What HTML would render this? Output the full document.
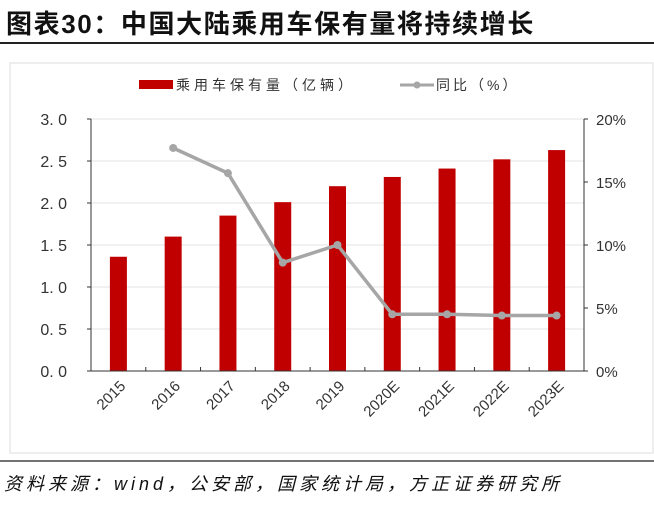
<!DOCTYPE html>
<html><head><meta charset="utf-8"><style>
body{margin:0;width:654px;height:505px;background:#fff;overflow:hidden;font-family:"Liberation Sans","Noto Sans CJK SC",sans-serif}
</style></head><body>
<svg width="654" height="505" xmlns="http://www.w3.org/2000/svg">
<text x="6" y="33" font-size="26" font-weight="bold" letter-spacing="1.6" fill="#111" font-family="'Liberation Sans','Noto Sans CJK SC',sans-serif">图表30：中国大陆乘用车保有量将持续增长</text>
<line x1="0" y1="43" x2="654" y2="43" stroke="#222" stroke-width="2"/>
<rect x="10" y="63" width="643" height="390" fill="#fff" stroke="#ddd"/>
<g>
<rect x="139" y="80" width="34" height="9" fill="#c00000"/>
<text x="176" y="90" font-size="14" letter-spacing="4" fill="#333" font-family="'Liberation Sans','Noto Sans CJK SC',sans-serif">乘用车保有量（亿辆）</text>
<line x1="400" y1="85" x2="434" y2="85" stroke="#a6a6a6" stroke-width="3"/>
<circle cx="417" cy="85" r="3.5" fill="#a6a6a6"/>
<text x="436" y="90" font-size="14" letter-spacing="3" fill="#333" font-family="'Liberation Sans','Noto Sans CJK SC',sans-serif">同比（%）</text>
</g>
<g id="plot"></g>
<line x1="0" y1="461" x2="654" y2="461" stroke="#444" stroke-width="1.5"/>
<text x="4" y="490" font-size="18" font-style="italic" letter-spacing="4" fill="#111" font-family="'Liberation Sans','Noto Sans CJK SC',sans-serif">资料来源：wind，公安部，国家统计局，方正证券研究所</text>
</svg>
<script>
const categories=["2015","2016","2017","2018","2019","2020E","2021E","2022E","2023E"];
const stock=[1.36,1.6,1.85,2.01,2.2,2.31,2.41,2.52,2.63];
const growth=[null,17.7,15.7,8.6,10.0,4.5,4.5,4.4,4.4];
const leftTicks=["0.0","0.5","1.0","1.5","2.0","2.5","3.0"];
const rightTicks=["0%","5%","10%","15%","20%"];
const NS="http://www.w3.org/2000/svg";
const g=document.getElementById('plot');
const L=91,R=584,T=119,B=371;
const yL=v=>B-(v/3)*(B-T);
const yR=v=>B-(v/20)*(B-T);
const step=(R-L)/categories.length;
const xC=i=>L+step*(i+0.5);
function mk(t,a,name){const e=document.createElementNS(NS,t);for(const k in a)e.setAttribute(k,a[k]);


g.appendChild(e);return e;}
leftTicks.forEach((t,i)=>{const v=i*0.5,y=yL(v);
if(i>0)mk('line',{x1:L,x2:R,y1:y,y2:y,stroke:'#e3e3e3'},'gridline');
mk('line',{x1:L-4,x2:L,y1:y,y2:y,stroke:'#333'},'left-tick');
const tx=mk('text',{x:67,y:y+6,'font-size':16,fill:'#333','text-anchor':'end'},'left-tick-label');tx.textContent=t.replace('.','. ');});
rightTicks.forEach((t,i)=>{const y=yR(i*5);
mk('line',{x1:R,x2:R+4,y1:y,y2:y,stroke:'#333'},'right-tick');
const tx=mk('text',{x:596,y:y+6,'font-size':15,fill:'#333'},'right-tick-label');tx.textContent=t;});
stock.forEach((v,i)=>{mk('rect',{x:xC(i)-8.5,y:yL(v),width:17,height:B-yL(v),fill:'#c00000'},'bar-'+categories[i]);});
mk('line',{x1:L,x2:L,y1:T,y2:B,stroke:'#333'},'left-axis');
mk('line',{x1:R,x2:R,y1:T,y2:B,stroke:'#333'},'right-axis');
mk('line',{x1:L,x2:R,y1:B,y2:B,stroke:'#333'},'x-axis');
categories.forEach((c,i)=>{const x=L+step*i;if(i>0)mk('line',{x1:x,x2:x,y1:B,y2:B-4,stroke:'#333'},'x-tick');
const tx=mk('text',{x:xC(i)+8,y:B+16,'font-size':15,fill:'#333','text-anchor':'end',transform:`rotate(-45 ${xC(i)+8} ${B+16})`},'x-tick-label');tx.textContent=c;});
let pts=[];growth.forEach((v,i)=>{if(v!==null)pts.push([xC(i),yR(v)]);});
mk('polyline',{points:pts.map(p=>p.join(',')).join(' '),fill:'none',stroke:'#a6a6a6','stroke-width':3.5},'growth-line');
growth.forEach((v,i)=>{if(v!==null)mk('circle',{cx:xC(i),cy:yR(v),r:4,fill:'#a6a6a6'},'growth-point-'+categories[i]);});
</script>
</body></html>
